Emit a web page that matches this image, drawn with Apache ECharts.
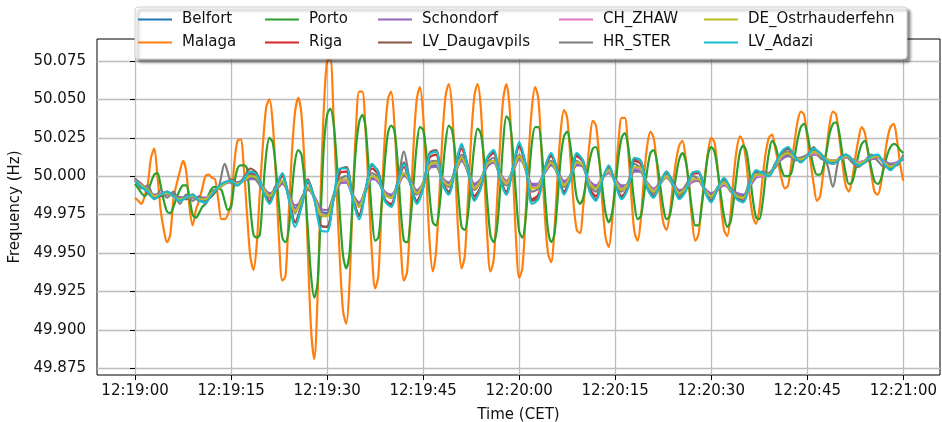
<!DOCTYPE html>
<html>
<head>
<meta charset="utf-8">
<script src="https://cdn.jsdelivr.net/npm/echarts@6/dist/echarts.min.js"></script>
<style>
  html, body { margin: 0; padding: 0; background: #fff; }
  #chart { width: 942px; height: 422px; }
</style>
</head>
<body>
<div id="chart"></div>
<script>
// Frequency deviation from 50 Hz in mHz, sampled from 12:19:00 onwards.
const NOMINAL_HZ = 50;
const FAST_STEP_S = 0.5;   // Malaga and Porto
const SLOW_STEP_S = 1;     // all other sites

const xTickSeconds = [0, 15, 30, 45, 60, 75, 90, 105, 120];
const xTickLabels = ['12:19:00', '12:19:15', '12:19:30', '12:19:45', '12:20:00',
                     '12:20:15', '12:20:30', '12:20:45', '12:21:00'];
const yTickValues = [49.875, 49.9, 49.925, 49.95, 49.975, 50, 50.025, 50.05, 50.075];

const seriesNames = ['Belfort', 'Malaga', 'Porto', 'Riga', 'Schondorf', 'LV_Daugavpils',
                     'CH_ZHAW', 'HR_STER', 'DE_Ostrhauderfehn', 'LV_Adazi'];
const seriesColors = ['#1f77b4', '#ff7f0e', '#2ca02c', '#d62728', '#9467bd', '#8c564b',
                      '#e377c2', '#7f7f7f', '#bcbd22', '#17becf'];

const malaga = [
  -14,-16,-18,-13,-5,12,18,0,-22,-35,
  -43,-38,-15,-5,3,10,3,-20,-32,-22,
  -16,-8,0,1,-1,-2,-15,-28,-28,-25,
  -18,8,23,24,5,-25,-52,-61,-45,-10,
  22,45,50,35,0,-42,-68,-65,-25,15,
  42,51,40,5,-50,-100,-119,-80,-10,45,
  75,76,40,-10,-55,-88,-96,-70,-15,30,
  55,55,30,-10,-50,-73,-65,-20,25,50,
  55,35,-5,-45,-68,-62,-25,20,50,58,
  40,0,-42,-62,-50,-15,25,52,60,45,
  5,-38,-60,-52,-15,25,52,60,45,5,
  -38,-62,-55,-20,20,50,60,45,5,-40,
  -66,-60,-25,15,45,58,50,15,-25,-50,
  -56,-35,0,30,43,38,12,-18,-35,-37,
  -20,0,22,36,33,12,-18,-40,-46,-30,
  -2,22,38,38,18,-12,-36,-42,-28,0,
  20,29,25,8,-14,-30,-35,-25,-6,10,
  20,23,12,-5,-28,-42,-38,-18,0,16,
  25,22,5,-18,-35,-39,-25,0,18,26,
  22,8,-12,-26,-31,-22,-2,15,25,27,
  18,8,-2,-8,-6,8,22,36,42,40,
  25,10,-5,-16,-13,2,18,34,42,40,
  25,8,-6,-10,-2,12,24,32,28,15,
  2,-10,-12,-5,10,24,32,34,24,8,
  -3
];

const porto = [
  -5,-8,-11,-13,-10,-4,1,2,-6,-16,
  -23,-24,-20,-14,-9,-6,-6,-14,-25,-27,
  -24,-20,-18,-12,-8,-7,-8,-9,-16,-22,
  -20,-5,5,7,7,5,-20,-38,-40,-38,
  -10,15,25,22,5,-20,-40,-43,-35,-10,
  10,17,14,-5,-35,-65,-79,-70,-25,20,
  40,44,35,10,-25,-52,-60,-50,-15,18,
  35,40,32,5,-25,-42,-40,-20,8,28,
  33,30,10,-22,-42,-43,-30,-5,20,32,
  30,15,-12,-30,-32,-22,0,22,33,30,
  15,-12,-33,-35,-25,-2,20,31,28,12,
  -15,-38,-43,-35,-10,22,39,36,18,-12,
  -36,-40,-28,-2,22,32,32,18,-10,-35,
  -43,-38,-15,12,26,29,20,2,-14,-18,
  -14,-2,10,18,19,10,-8,-24,-30,-24,
  -8,12,25,28,20,2,-18,-28,-26,-12,
  4,15,17,10,-5,-20,-28,-26,-14,0,
  11,15,10,-5,-22,-32,-32,-20,-2,14,
  19,16,4,-12,-26,-33,-30,-16,2,16,
  20,16,2,-15,-27,-28,-18,0,15,23,
  20,12,4,0,0,2,12,24,32,34,
  28,16,6,1,1,6,16,28,34,35,
  28,14,2,-5,-4,4,14,21,23,16,
  5,-3,-5,-2,6,14,19,21,20,17,
  15
];

const belfort = [
  -3,-6,-9,-13,-12,-11,-13,-14,-14,-13,
  -15,-15,-11,-8,-5,-3,-4,-3,-1,-2,
  -8,-12,-8,-4,-12,-21,-16,-8,-14,-23,
  -24,-14,-4,-4,-13,-18,-9,-1,-4,-11,
  -13,-6,1,-4,-10,-5,6,7,-2,-5,
  3,11,3,-6,-2,7,9,1,-4,4,
  12,5,-6,-5,3,8,2,-4,0,8,
  6,-4,-7,-1,3,-3,-7,-5,4,3,
  -5,-9,-4,-1,-5,-10,-8,-3,-3,-9,
  -12,-8,-5,-9,-12,-13,-6,0,0,1,
  6,12,14,12,11,13,15,13,11,10,
  11,12,11,9,10,11,12,9,7,9,
  11
];

const riga = [
  -3,-7,-10,-14,-12,-10,-13,-15,-14,-12,
  -16,-16,-12,-7,-4,-3,-5,-2,2,0,
  -9,-16,-8,0,-14,-30,-19,-4,-15,-32,
  -33,-15,2,3,-14,-25,-10,5,1,-15,
  -18,-5,6,-5,-16,-7,12,14,-4,-10,
  5,18,5,-13,-7,11,15,-1,-10,5,
  19,7,-15,-12,5,13,3,-10,-1,13,
  9,-8,-13,-2,6,-4,-13,-7,10,8,
  -7,-13,-5,2,-5,-14,-9,1,2,-10,
  -16,-8,-2,-8,-14,-16,-5,3,2,0,
  8,15,18,13,10,13,17,15,10,8,
  11,14,11,7,9,13,13,8,5,8,
  12
];

const schondorf = [
  -2,-5,-9,-12,-12,-12,-12,-14,-14,-14,
  -14,-14,-12,-8,-5,-4,-4,-3,-2,-2,
  -7,-11,-9,-5,-11,-19,-16,-9,-13,-21,
  -22,-15,-5,-4,-12,-17,-10,-2,-3,-10,
  -12,-7,0,-3,-9,-5,5,6,-1,-4,
  2,10,4,-5,-2,6,9,2,-3,3,
  11,6,-5,-5,2,7,3,-3,0,7,
  6,-3,-6,-1,2,-2,-6,-5,3,3,
  -4,-8,-5,-1,-4,-9,-8,-4,-3,-8,
  -11,-9,-6,-8,-11,-12,-7,-1,0,2,
  6,11,13,12,12,13,14,13,11,10,
  11,12,11,9,10,11,12,10,8,9,
  11
];

const daugavpils = [
  -2,-6,-11,-14,-13,-11,-12,-15,-15,-13,
  -15,-16,-13,-8,-5,-2,-5,-1,5,2,
  -9,-17,-7,1,-13,-30,-19,-2,-14,-32,
  -33,-14,4,6,-13,-26,-9,7,3,-15,
  -19,-4,9,-4,-17,-7,15,17,-4,-11,
  6,20,6,-15,-7,12,16,-1,-11,5,
  20,8,-16,-14,5,14,4,-11,-1,14,
  10,-9,-15,-2,6,-4,-14,-7,11,10,
  -7,-13,-5,3,-4,-14,-9,2,3,-9,
  -16,-8,-2,-8,-14,-16,-5,3,2,1,
  8,15,18,13,10,13,17,15,10,9,
  11,13,11,8,9,12,13,9,5,8,
  12
];

const chZhaw = [
  -3,-6,-10,-13,-11,-11,-13,-15,-14,-12,
  -15,-15,-11,-7,-4,-3,-5,-3,0,-1,
  -8,-13,-8,-3,-12,-22,-16,-7,-14,-24,
  -25,-14,-3,-3,-13,-19,-9,0,-3,-11,
  -14,-6,2,-4,-11,-5,7,8,-2,-6,
  3,12,3,-7,-3,8,10,1,-4,4,
  13,5,-7,-6,3,9,2,-5,0,9,
  6,-4,-8,-1,3,-3,-8,-5,5,4,
  -5,-9,-4,-1,-5,-11,-8,-3,-2,-9,
  -13,-8,-5,-9,-12,-14,-6,0,0,1,
  6,13,15,12,11,13,15,13,11,10,
  11,12,11,9,10,12,12,9,7,9,
  12
];

const hrSter = [
  -1,-8,-6,-15,-9,-14,-10,-18,-12,-16,
  -13,-18,-10,-8,8,-4,-6,-1,1,-3,
  -9,-14,-6,-3,-12,-24,-14,-8,-14,-26,
  -25,-12,-2,0,-12,-20,-8,2,-1,-12,
  -14,-4,16,-4,-12,-4,9,10,-3,-7,
  4,14,2,-9,-3,9,12,-1,-6,4,
  14,4,-10,-8,4,10,1,-7,1,10,
  6,-6,-10,-1,5,-4,-10,-4,8,5,
  -6,-11,-3,1,-6,-12,-6,0,-2,-9,
  -14,-7,-3,-10,-12,-14,-3,1,3,2,
  6,14,16,10,12,14,19,12,9,-7,
  12,13,9,6,10,14,10,6,8,7,
  14
];

const deOstrhauderfehn = [
  -3,-6,-9,-13,-12,-11,-13,-15,-14,-13,
  -15,-15,-11,-8,-5,-3,-5,-3,0,-1,
  -8,-13,-8,-3,-13,-23,-16,-7,-14,-25,
  -26,-14,-3,-2,-13,-20,-9,0,-2,-12,
  -14,-6,2,-4,-11,-5,7,9,-2,-6,
  3,12,4,-8,-3,8,10,1,-5,4,
  13,5,-8,-7,3,9,2,-6,0,9,
  7,-5,-8,-1,4,-3,-9,-5,6,5,
  -5,-10,-5,0,-5,-11,-8,-2,-2,-9,
  -13,-8,-4,-9,-13,-14,-6,1,1,1,
  7,13,15,12,11,13,16,14,11,10,
  11,13,11,8,10,12,13,9,6,8,
  12
];

const lvAdazi = [
  -3,-7,-10,-15,-12,-10,-13,-16,-14,-12,
  -16,-17,-12,-7,-4,-3,-6,-2,3,1,
  -10,-18,-8,2,-15,-33,-20,-3,-15,-35,
  -36,-15,5,5,-15,-28,-10,8,2,-16,
  -20,-5,8,-5,-18,-8,14,16,-5,-12,
  5,21,5,-16,-8,12,17,-2,-12,5,
  22,8,-18,-15,5,15,3,-12,-2,15,
  10,-10,-16,-2,7,-5,-15,-8,12,10,
  -8,-14,-5,3,-5,-15,-10,2,3,-10,
  -17,-8,-1,-8,-15,-17,-5,4,2,0,
  8,16,19,13,9,13,18,15,10,8,
  11,14,11,7,9,13,14,8,4,8,
  12
];

const seriesData = [
  [belfort, SLOW_STEP_S], [malaga, FAST_STEP_S], [porto, FAST_STEP_S],
  [riga, SLOW_STEP_S], [schondorf, SLOW_STEP_S], [daugavpils, SLOW_STEP_S],
  [chZhaw, SLOW_STEP_S], [hrSter, SLOW_STEP_S], [deOstrhauderfehn, SLOW_STEP_S],
  [lvAdazi, SLOW_STEP_S]
];

function toPoints(mhz, step) {
  return mhz.map((v, i) => [i * step, +(NOMINAL_HZ + v / 1000).toFixed(4)]);
}

const FONT = 'DejaVu Sans';
const chart = echarts.init(document.getElementById('chart'), null, { renderer: 'canvas' });

const legendColumns = [
  { names: ['Belfort', 'Malaga'], left: 138 },
  { names: ['Porto', 'Riga'], left: 265 },
  { names: ['Schondorf', 'LV_Daugavpils'], left: 378 },
  { names: ['CH_ZHAW', 'HR_STER'], left: 559 },
  { names: ['DE_Ostrhauderfehn', 'LV_Adazi'], left: 704 }
];

chart.setOption({
  animation: false,
  backgroundColor: '#fff',
  textStyle: { fontFamily: FONT },
  grid: {
    left: 97, top: 39, right: 2, bottom: 47,
    outerBoundsMode: 'none',
    containLabel: false,
    show: true, borderColor: '#000', borderWidth: 1, backgroundColor: 'transparent'
  },
  graphic: [{
    type: 'rect',
    z: 50,
    shape: { x: 135, y: 7, width: 772, height: 52, r: 3 },
    style: {
      fill: '#fff', stroke: '#d0d0d0', lineWidth: 1,
      shadowBlur: 3, shadowOffsetX: 3, shadowOffsetY: 3, shadowColor: 'rgba(0,0,0,0.45)'
    }
  }],
  legend: legendColumns.map(col => ({
    data: col.names,
    orient: 'vertical',
    left: col.left,
    top: 12,
    z: 60,
    itemWidth: 34,
    itemHeight: 2,
    itemGap: 8,
    icon: 'rect',
    padding: 0,
    selectedMode: false,
    textStyle: { fontFamily: FONT, fontSize: 15, color: '#111', lineHeight: 15, padding: [0, 0, 0, 5] }
  })),
  xAxis: {
    type: 'value',
    min: -5.94,
    max: 125.73,
    name: 'Time (CET)',
    nameLocation: 'middle',
    nameGap: 33,
    nameTextStyle: { fontFamily: FONT, fontSize: 15, color: '#111' },
    axisLine: { show: false },
    axisTick: { show: true, length: 5, customValues: xTickSeconds, lineStyle: { color: '#000', width: 1 } },
    axisLabel: {
      customValues: xTickSeconds,
      margin: 9,
      fontFamily: FONT, fontSize: 15, color: '#111',
      formatter: v => xTickLabels[xTickSeconds.indexOf(Math.round(v))] || ''
    },
    splitLine: { show: true, lineStyle: { color: '#bdbdbd', width: 1.3 } }
  },
  yAxis: {
    type: 'value',
    min: 49.8706,
    max: 50.0893,
    name: 'Frequency (Hz)',
    nameLocation: 'middle',
    nameGap: 69,
    nameRotate: 90,
    nameTextStyle: { fontFamily: FONT, fontSize: 15, color: '#111' },
    axisLine: { show: false },
    axisTick: { show: true, length: 5, customValues: yTickValues, lineStyle: { color: '#000', width: 1 } },
    axisLabel: {
      customValues: yTickValues,
      margin: 11,
      fontFamily: FONT, fontSize: 15, color: '#111',
      formatter: v => v.toFixed(3)
    },
    splitLine: { show: true, lineStyle: { color: '#bdbdbd', width: 1.3 } }
  },
  series: seriesNames.map((name, i) => ({
    name,
    type: 'line',
    data: toPoints(seriesData[i][0], seriesData[i][1]),
    showSymbol: false,
    smooth: 0.3,
    color: seriesColors[i],
    lineStyle: { width: 2.2, color: seriesColors[i] },
    emphasis: { disabled: true }
  }))
});
</script>
</body>
</html>
